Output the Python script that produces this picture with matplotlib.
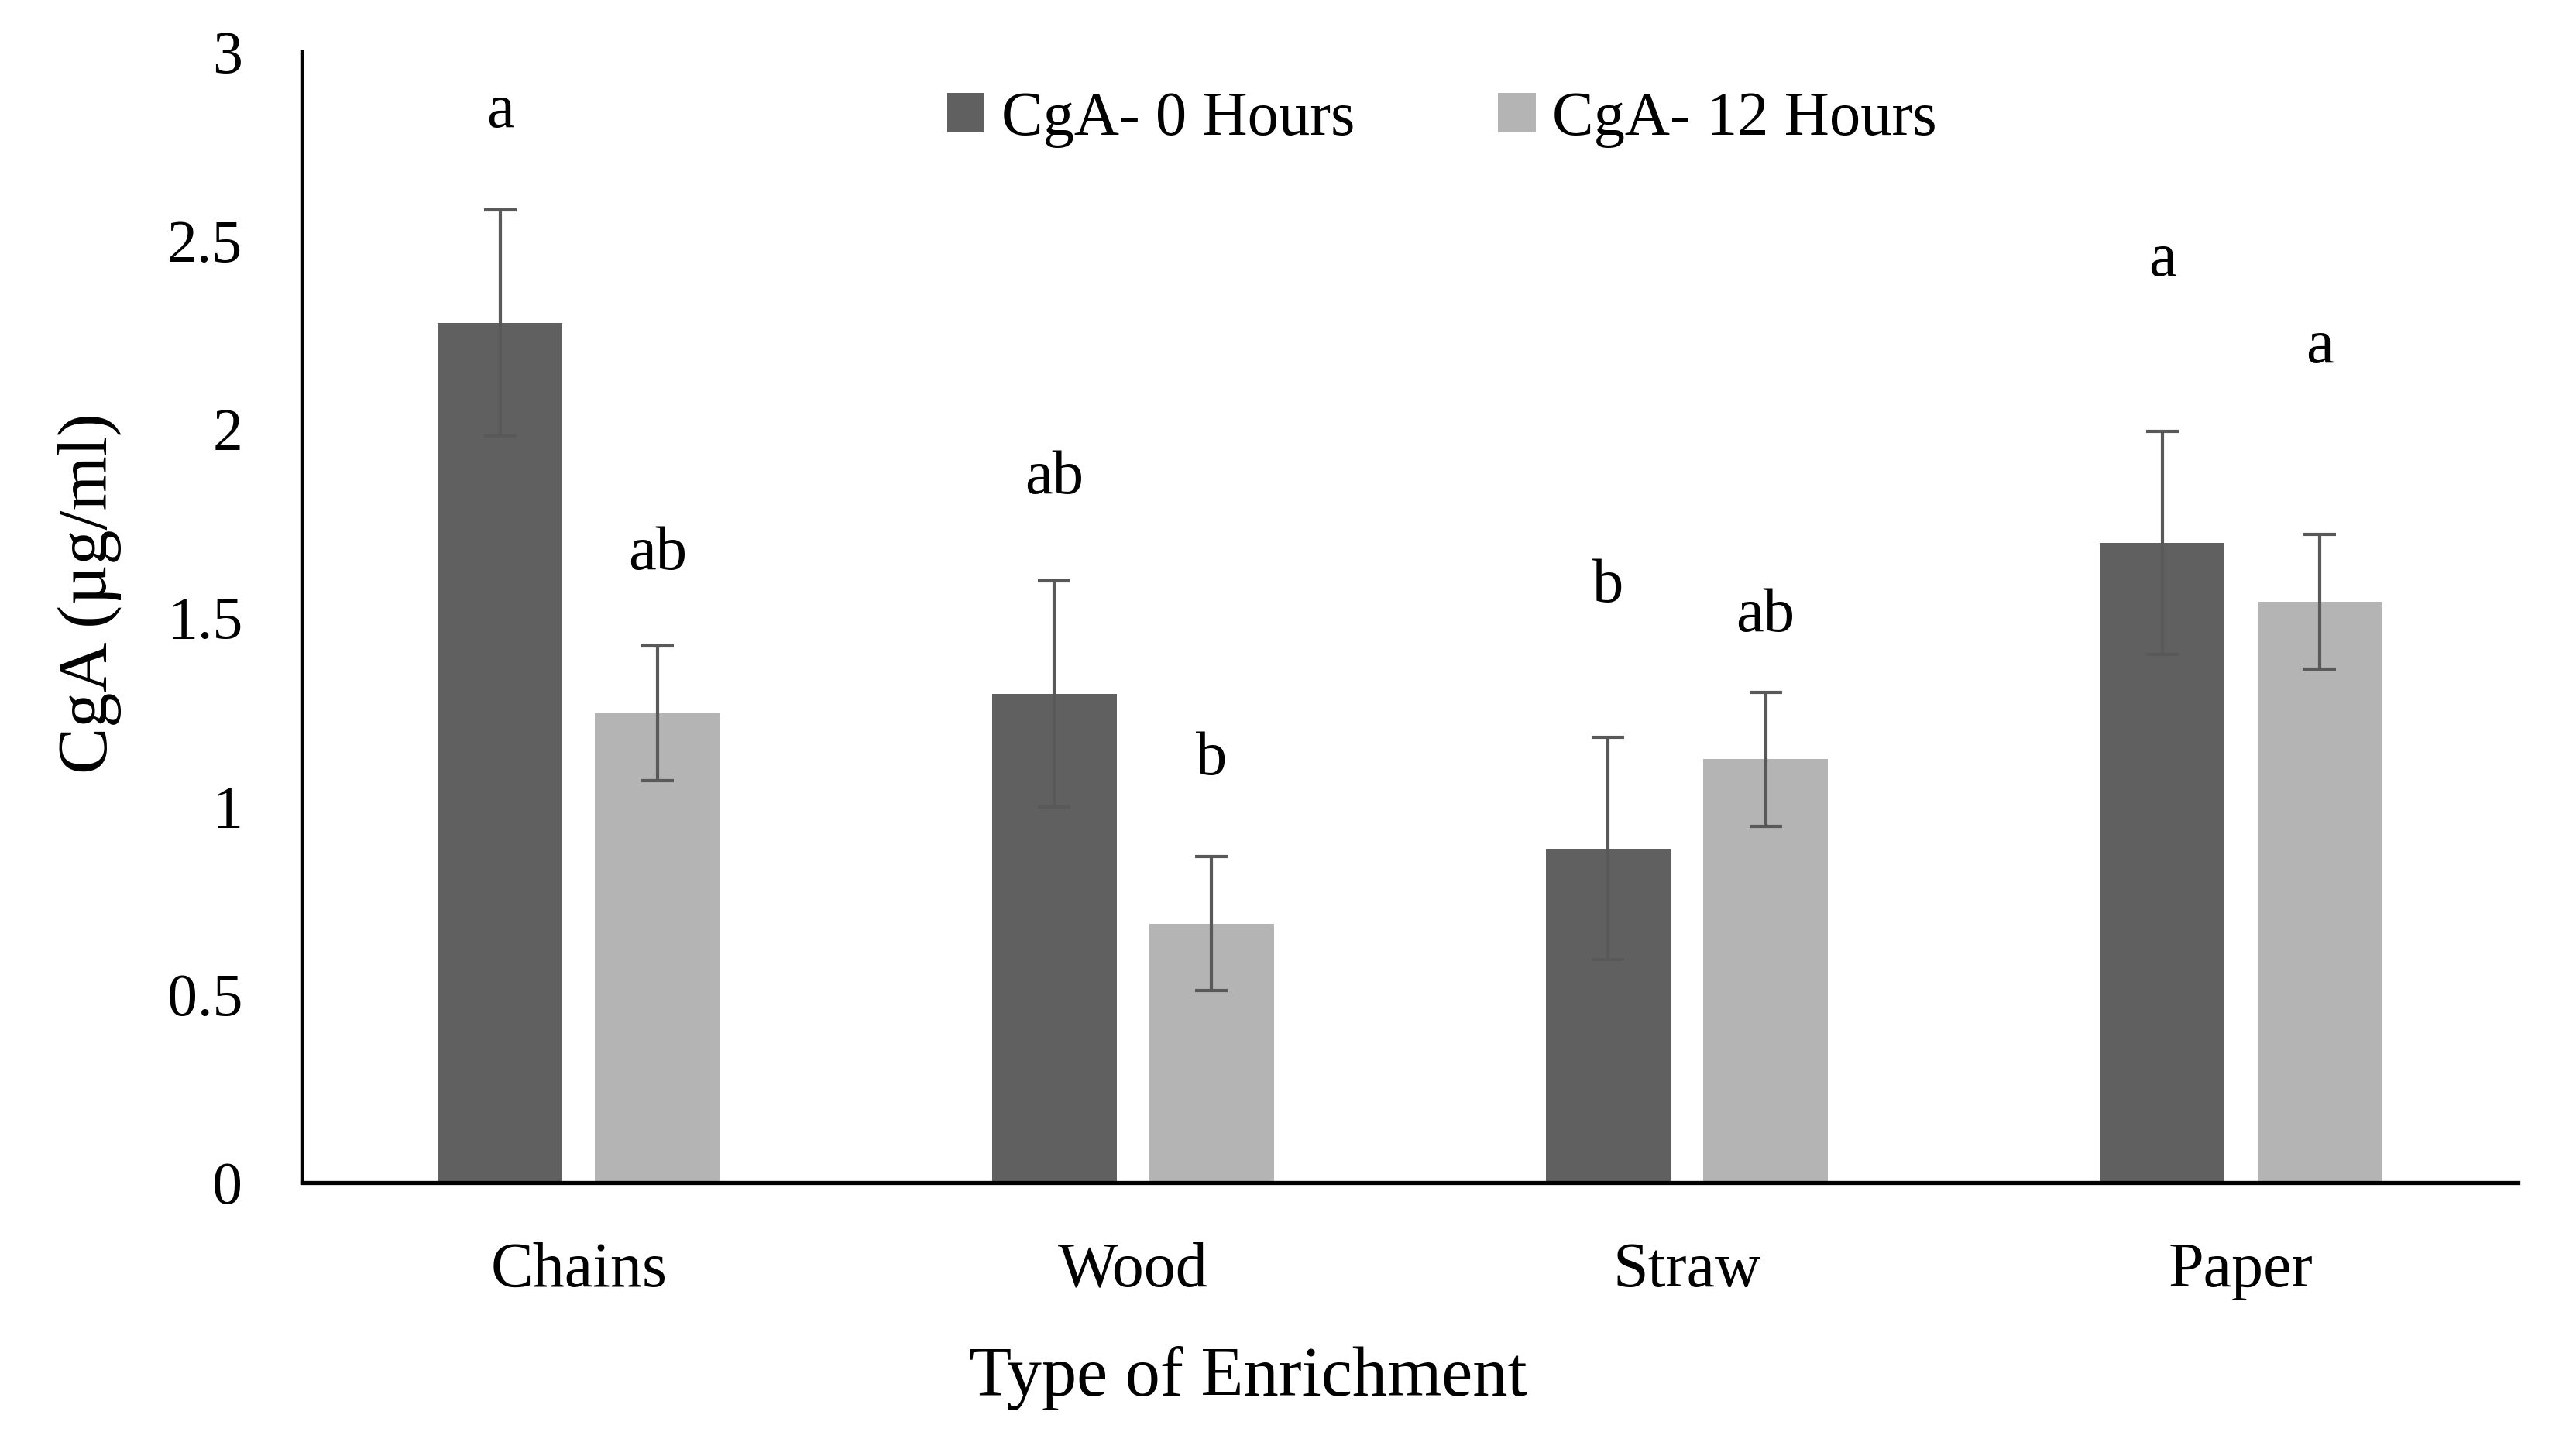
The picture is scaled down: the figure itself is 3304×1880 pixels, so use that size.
import matplotlib
matplotlib.use("Agg")
import matplotlib.pyplot as plt
import numpy as np

categories = ["Chains", "Wood", "Straw", "Paper"]
series_names = ["CgA- 0 Hours", "CgA- 12 Hours"]
cga_0h = [2.28, 1.297, 0.886, 1.697]
cga_0h_err = [0.30, 0.30, 0.295, 0.296]
cga_12h = [1.245, 0.687, 1.123, 1.541]
cga_12h_err = [0.178, 0.178, 0.178, 0.179]
letters_0h = ["a", "ab", "b", "a"]
letters_0h_y = [2.80, 1.829, 1.541, 2.406]
letters_12h = ["ab", "b", "ab", "a"]
letters_12h_y = [1.627, 1.083, 1.463, 2.176]
yticks = [0, 0.5, 1, 1.5, 2, 2.5, 3]
ytick_labels = ["0", "0.5", "1", "1.5", "2", "2.5", "3"]

plt.rcParams['font.family'] = ['Liberation Serif', 'DejaVu Serif']

fig = plt.figure(figsize=(33.04, 18.8), dpi=100)
ax = fig.add_axes([0.1179, 0.18777, 0.984 - 0.1179, 0.96436 - 0.18777])

x = np.arange(len(categories))
w = 0.225
off = 0.142
dark = "#606060"
light = "#b4b4b4"
ecol = "#595959"

ax.bar(x - off, cga_0h, w, color=dark, label=series_names[0], zorder=2)
ax.bar(x + off, cga_12h, w, color=light, label=series_names[1], zorder=2)
ax.errorbar(x - off, cga_0h, yerr=cga_0h_err, fmt='none', ecolor=ecol,
            elinewidth=3.0, capsize=15, capthick=3.0, zorder=3)
ax.errorbar(x + off, cga_12h, yerr=cga_12h_err, fmt='none', ecolor=ecol,
            elinewidth=3.0, capsize=15, capthick=3.0, zorder=3)

for xi, t, yv in zip(x - off, letters_0h, letters_0h_y):
    ax.text(xi, yv, t, ha='center', va='baseline', fontsize=58)
for xi, t, yv in zip(x + off, letters_12h, letters_12h_y):
    ax.text(xi, yv, t, ha='center', va='baseline', fontsize=58)

ax.set_xlim(-0.5, len(categories) - 0.5)
ax.set_ylim(0, 3)
ax.set_yticks(yticks)
ax.set_yticklabels(ytick_labels, fontsize=56)
ax.set_xticks(x)
ax.set_xticklabels(categories, fontsize=59)
ax.tick_params(axis='y', length=0, pad=55)
ax.tick_params(axis='x', length=0, pad=55)

for s in ['top', 'right']:
    ax.spines[s].set_visible(False)
ax.spines['left'].set_linewidth(3.2)
ax.spines['bottom'].set_linewidth(3.8)
ax.spines['left'].set_color('black')
ax.spines['bottom'].set_color('black')

ax.set_xlabel("Type of Enrichment", fontsize=65)
ax.xaxis.set_label_coords(0.4268, -0.1444)
ax.set_ylabel("CgA (µg/ml)", fontsize=65)
ax.yaxis.set_label_coords(-0.0814, 0.521)

fig.legend(loc='center', bbox_to_anchor=(0.5635, 0.918), ncol=2, frameon=False,
           fontsize=58, handlelength=0.6, handleheight=0.6, handletextpad=0.27,
           columnspacing=2.3, borderpad=0)

fig.savefig("out.png", dpi=100, facecolor='white')
